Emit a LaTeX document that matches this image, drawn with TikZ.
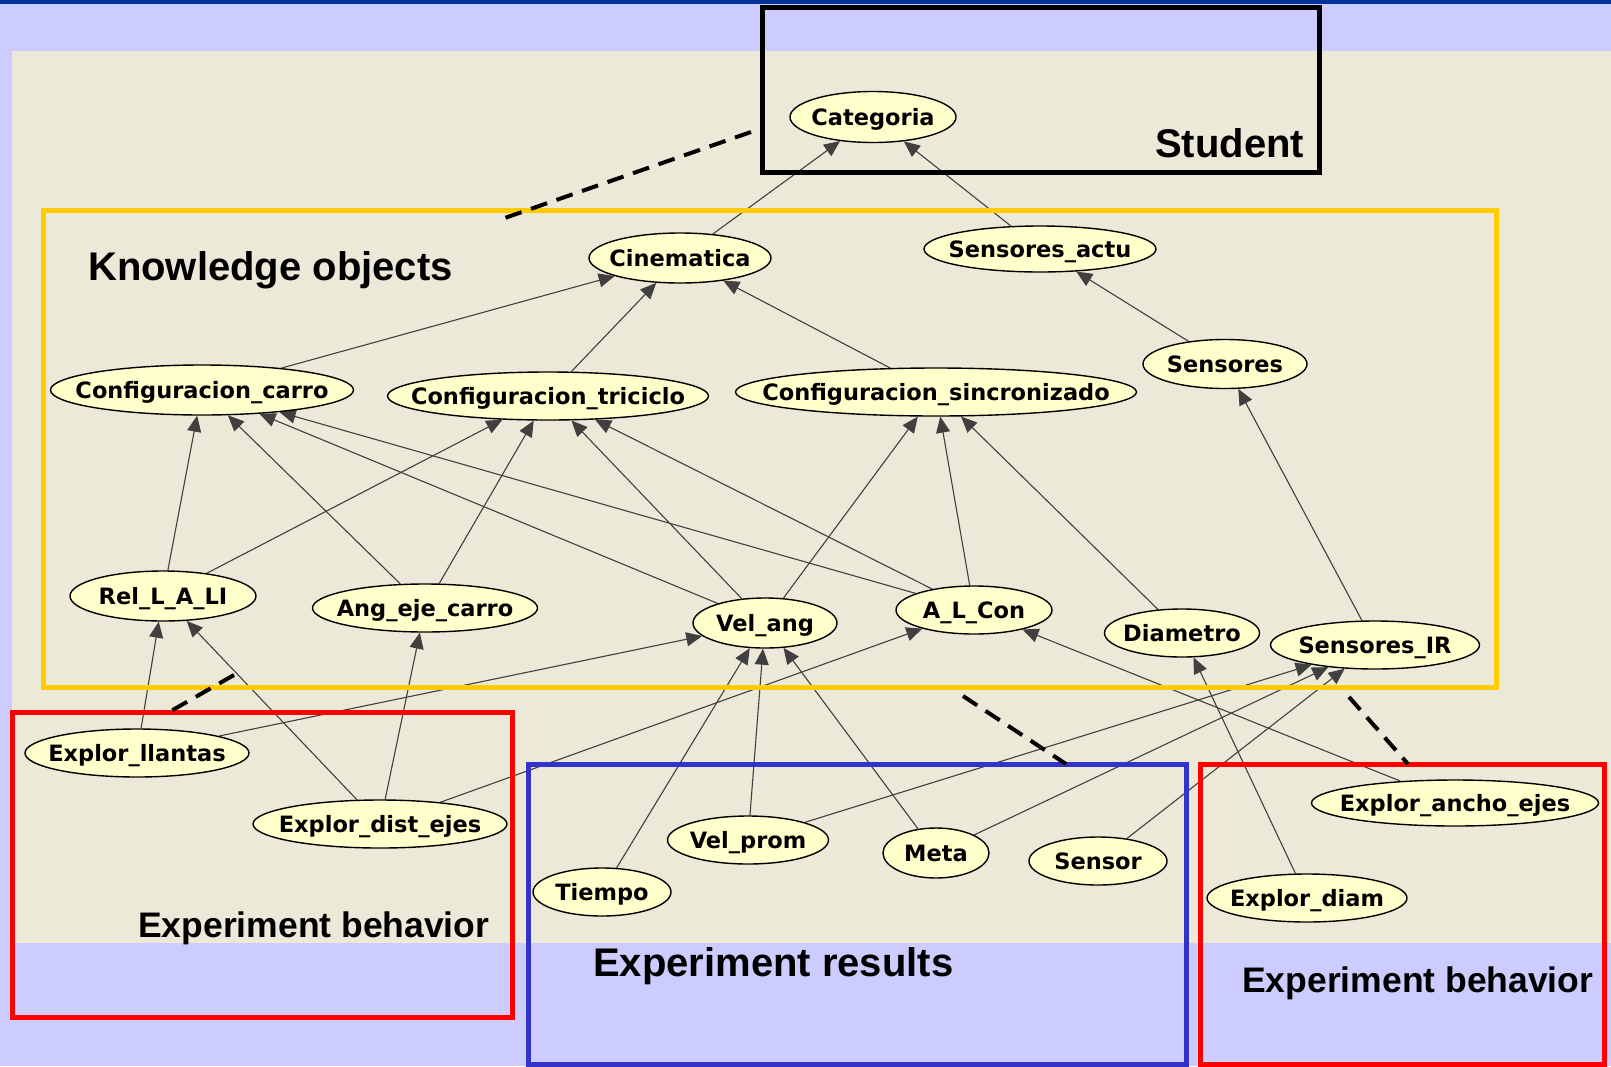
\documentclass[tikz,border=0pt]{standalone}
\usepackage{fontspec}
\setmainfont{Liberation Sans}
\newfontfamily\nodefont{DejaVu Sans}
\usetikzlibrary{shapes.geometric,arrows.meta}
\pgfdeclarelayer{bg}
\pgfsetlayers{bg,main}
\definecolor{lav}{RGB}{204,204,255}
\definecolor{beige}{RGB}{236,233,216}
\definecolor{topbar}{RGB}{0,51,153}
\definecolor{ybox}{RGB}{255,204,0}
\definecolor{rbox}{RGB}{255,0,0}
\definecolor{bbox}{RGB}{51,51,204}
\definecolor{nfill}{RGB}{255,255,204}
\definecolor{edgec}{RGB}{64,64,64}
\newcommand{\nlab}[1]{\makebox[0pt]{#1}}
\tikzset{
  kn/.style={ellipse, draw=black, line width=1.4pt, fill=nfill, inner sep=0pt,
    text height=16pt, text depth=0pt,
    font=\nodefont\bfseries\fontsize{22.5pt}{27pt}\selectfont},
  edge/.style={draw=edgec, line width=1.1pt, -{Triangle[length=16pt,width=14pt]}},
  frame/.style={line width=5pt},
  link/.style={line width=4pt, dash pattern=on 17pt off 10pt},
  biglab/.style={anchor=base west, inner sep=0pt, font=\bfseries\fontsize{40pt}{48pt}\selectfont},
  midlab/.style={anchor=base west, inner sep=0pt, font=\bfseries\fontsize{35.5pt}{42pt}\selectfont}
}
\begin{document}
\begin{tikzpicture}[x=1pt,y=-1pt]
\useasboundingbox (0,0) rectangle (1611,1066);
\begin{pgfonlayer}{bg}
  \fill[lav] (0,0) rectangle (1611,1066);
  \fill[beige] (12,51) rectangle (1611,943);
  \fill[topbar] (0,0) rectangle (1611,4);
\end{pgfonlayer}

% nodes
\node[kn, minimum width=166pt, minimum height=51pt] (cat) at (873,117) {\nlab{Categoria}};
\node[kn, minimum width=232pt, minimum height=46pt] (sact) at (1040,249) {\nlab{Sensores\_actu}};
\node[kn, minimum width=182pt, minimum height=50pt] (cine) at (680,258) {\nlab{Cinematica}};
\node[kn, minimum width=164pt, minimum height=49pt] (sens) at (1225,364) {\nlab{Sensores}};
\node[kn, minimum width=303pt, minimum height=50pt] (ccar) at (202,390) {\nlab{Configuracion\_carro}};
\node[kn, minimum width=321pt, minimum height=48pt] (ctri) at (548,396) {\nlab{Configuracion\_triciclo}};
\node[kn, minimum width=401pt, minimum height=48pt] (csin) at (936,392) {\nlab{Configuracion\_sincronizado}};
\node[kn, minimum width=186pt, minimum height=50pt] (rel) at (163,596) {\nlab{Rel\_L\_A\_LI}};
\node[kn, minimum width=225pt, minimum height=48pt] (ang) at (425,608) {\nlab{Ang\_eje\_carro}};
\node[kn, minimum width=144pt, minimum height=50pt] (vang) at (765,623) {\nlab{Vel\_ang}};
\node[kn, minimum width=156pt, minimum height=48pt] (alc) at (974,610) {\nlab{A\_L\_Con}};
\node[kn, minimum width=155pt, minimum height=48pt] (diam) at (1182,633) {\nlab{Diametro}};
\node[kn, minimum width=209pt, minimum height=48pt] (sir) at (1375,645) {\nlab{Sensores\_IR}};
\node[kn, minimum width=224pt, minimum height=48pt] (ell) at (137,753) {\nlab{Explor\_llantas}};
\node[kn, minimum width=254pt, minimum height=48pt] (edis) at (380,824) {\nlab{Explor\_dist\_ejes}};
\node[kn, minimum width=161pt, minimum height=48pt] (vprom) at (748,840) {\nlab{Vel\_prom}};
\node[kn, minimum width=106pt, minimum height=50pt] (meta) at (936,853) {\nlab{Meta}};
\node[kn, minimum width=138pt, minimum height=48pt] (sensor) at (1098,861) {\nlab{Sensor}};
\node[kn, minimum width=138pt, minimum height=48pt] (tiempo) at (602,892) {\nlab{Tiempo}};
\node[kn, minimum width=287pt, minimum height=46pt] (eanch) at (1455,803) {\nlab{Explor\_ancho\_ejes}};
\node[kn, minimum width=200pt, minimum height=48pt] (ediam) at (1307,898) {\nlab{Explor\_diam}};

% edges
\begin{pgfonlayer}{bg}
\foreach \a/\b in {cine/cat, sact/cat, sens/sact, ccar/cine, ctri/cine, csin/cine,
  sir/sens, rel/ccar, ang/ccar, vang/ccar, alc/ccar, rel/ctri, ang/ctri, vang/ctri,
  alc/ctri, vang/csin, alc/csin, diam/csin, ell/rel, edis/rel, edis/ang, ell/vang,
  edis/alc, tiempo/vang, vprom/vang, meta/vang, eanch/alc, ediam/diam, vprom/sir,
  meta/sir, sensor/sir}
  \draw[edge] (\a) -- (\b);
\end{pgfonlayer}

% group frames
\draw[frame, black] (762,7) rectangle (1319,172);
\draw[frame, ybox] (43,210) rectangle (1496,687);
\draw[frame, rbox] (12,712) rectangle (512,1017);
\draw[frame, bbox] (528,764) rectangle (1186,1064);
\draw[frame, rbox] (1200,764) rectangle (1604,1064);

% dashed links between groups
\coordinate (l1a) at (751,132); \coordinate (l1b) at (499,220);
\coordinate (l2a) at (234,675); \coordinate (l2b) at (171,711);
\coordinate (l3a) at (963,696); \coordinate (l3b) at (1066,764);
\coordinate (l4a) at (1349,697); \coordinate (l4b) at (1408,764);
\draw[link] (l1a) -- (l1b);
\draw[link] (l2a) -- (l2b);
\draw[link] (l3a) -- (l3b);
\draw[link] (l4a) -- (l4b);

% group labels
\node[biglab] (tstud) at (1155,157) {Student};
\node[biglab] (tknow) at (88,280) {Knowledge objects};
\node[biglab] (tres) at (593,976) {Experiment results};
\node[midlab] (tbeh1) at (138,937) {Experiment behavior};
\node[midlab] (tbeh2) at (1242,992) {Experiment behavior};
\end{tikzpicture}
\end{document}
